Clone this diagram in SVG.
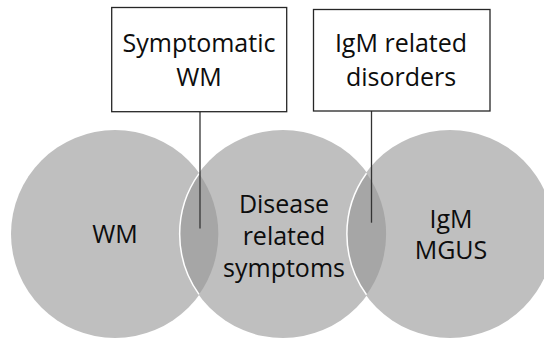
<svg xmlns="http://www.w3.org/2000/svg" width="544" height="338" viewBox="0 0 544 338">
<style>
.c{fill:#bfbfbf}
.lens{fill:#a6a6a6}
.rim{fill:none;stroke:#ffffff;stroke-width:1.5}
.box{fill:#ffffff;stroke:#262626;stroke-width:1.3}
.t{font-family:"Open Sans","Liberation Sans",sans-serif;font-size:25px;fill:#0d0d0d;text-anchor:middle}
.conn{stroke:#333333;stroke-width:1.3;fill:none}
</style>
<rect width="544" height="338" fill="#ffffff"/>
<g id="circle-wm">
<circle class="c" cx="115" cy="234" r="104"/>
</g>
<g id="circle-symptoms">
<circle class="c" cx="283" cy="234" r="104"/>
</g>
<g id="circle-mgus">
<circle class="c" cx="450" cy="234" r="104"/>
</g>
<g id="overlaps">
<path class="lens" d="M199 173.6 A104 104 0 0 1 199 294.4 A104 104 0 0 1 199 173.6 Z"/>
<path class="lens" d="M366.5 173.2 A104 104 0 0 1 366.5 294.8 A104 104 0 0 1 366.5 173.2 Z"/>
<path class="rim" d="M199 294.4 A104 104 0 0 1 199 173.6"/>
<path class="rim" d="M366.5 294.8 A104 104 0 0 1 366.5 173.2"/>
</g>
<g id="labels-circles">
<text class="t" x="115" y="243">WM</text>
<text class="t" x="284" y="213">Disease</text>
<text class="t" x="284" y="245">related</text>
<text class="t" x="284" y="277">symptoms</text>
<text class="t" x="451" y="228">IgM</text>
<text class="t" x="451" y="259">MGUS</text>
</g>
<g id="connectors">
<line class="conn" x1="200" y1="111.7" x2="200" y2="228.5"/>
<line class="conn" x1="371.5" y1="111" x2="371.5" y2="222.7"/>
</g>
<g id="box-symptomatic-wm">
<rect class="box" x="111.7" y="7.5" width="175" height="104.2"/>
<text class="t" x="199" y="52">Symptomatic</text>
<text class="t" x="199" y="85.5">WM</text>
</g>
<g id="box-igm-related">
<rect class="box" x="313.5" y="9.5" width="176.5" height="101.5"/>
<text class="t" x="401" y="52">IgM related</text>
<text class="t" x="401" y="86">disorders</text>
</g>
</svg>
